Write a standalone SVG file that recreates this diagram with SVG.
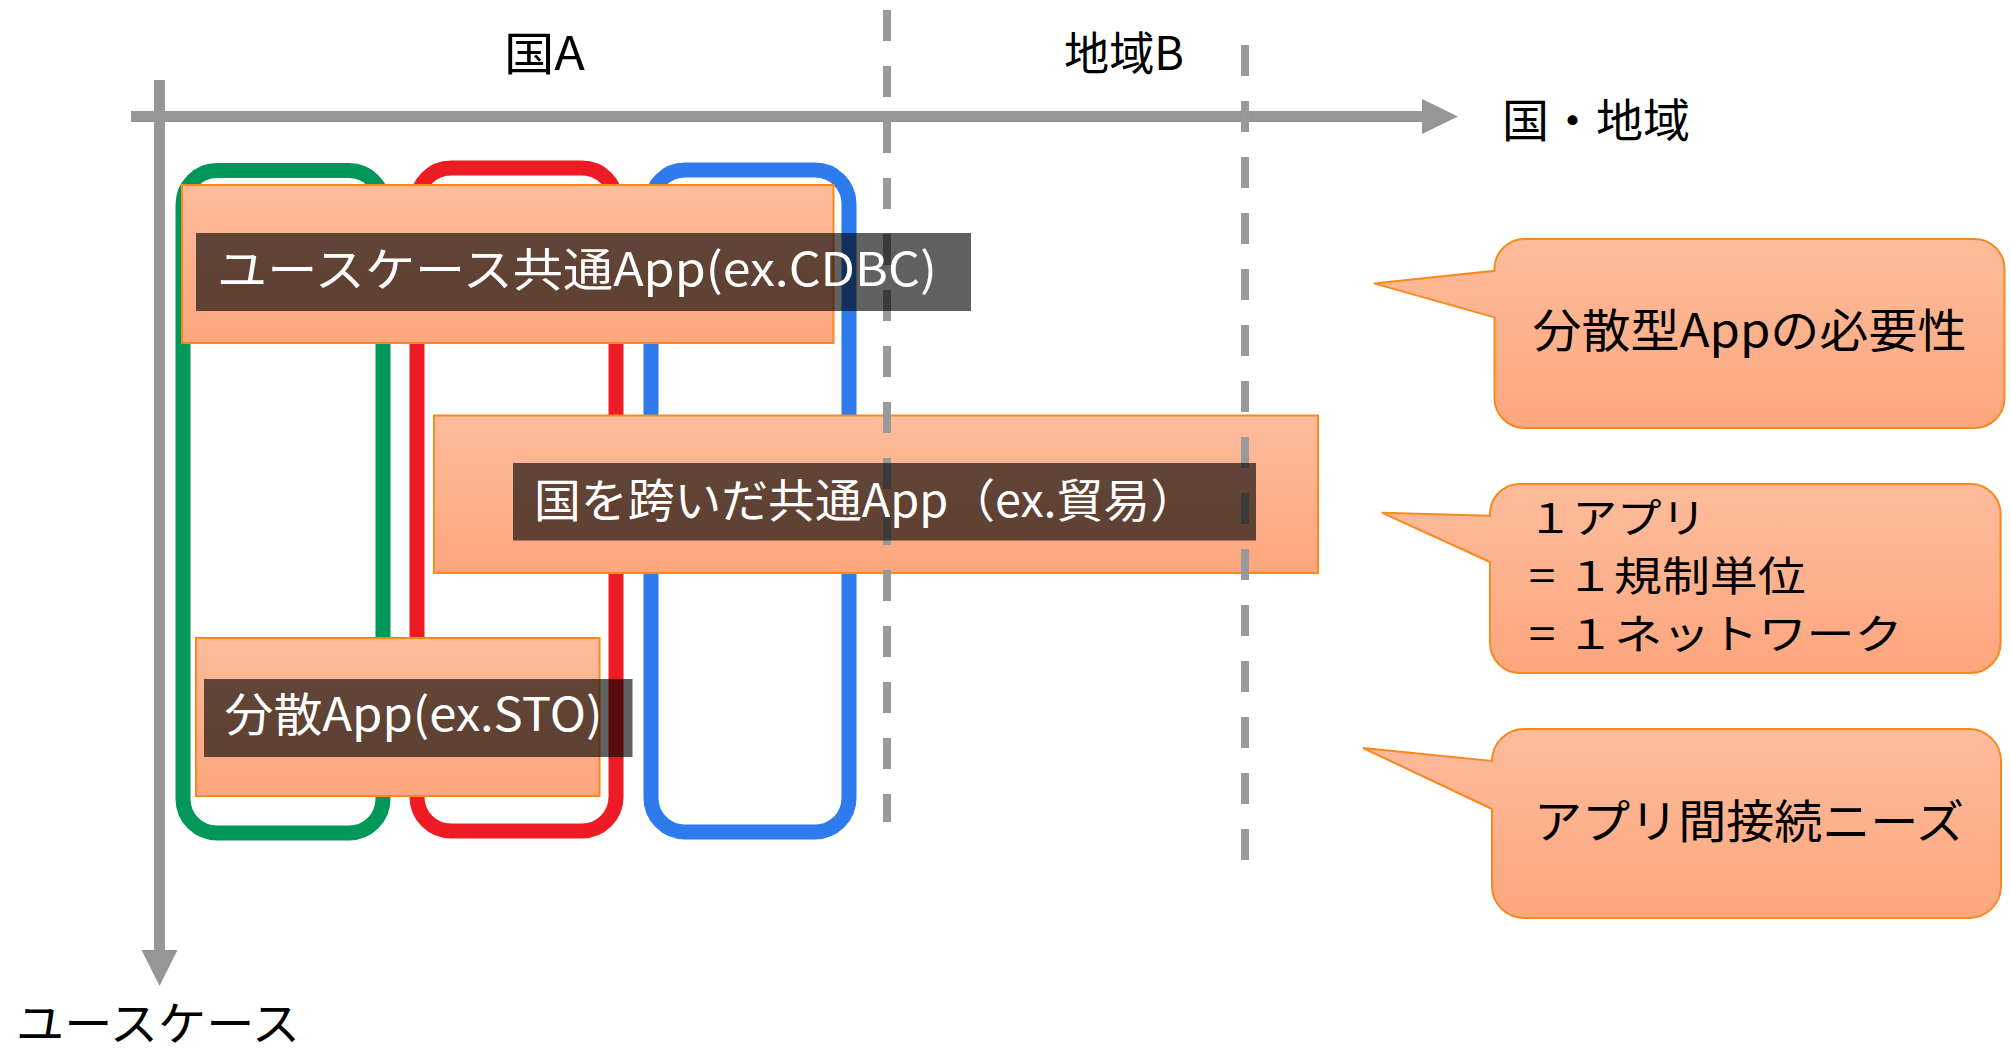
<svg xmlns="http://www.w3.org/2000/svg" width="2011" height="1052" viewBox="0 0 2011 1052">
<defs>
<linearGradient id="peach" x1="0" y1="0" x2="0" y2="1">
<stop offset="0" stop-color="#FDBC9C"/>
<stop offset="1" stop-color="#FCA67D"/>
</linearGradient>
<style>
.t{font-family:"Noto Sans CJK JP","Noto Sans",sans-serif;font-size:46px;fill:#000}
.s{font-family:"Noto Sans CJK JP","Noto Sans",sans-serif;font-size:41px;fill:#000}
.w{font-family:"Noto Sans CJK JP","Noto Sans",sans-serif;font-size:46px;fill:#fff}
.box{fill:url(#peach);stroke:#F8891E;stroke-width:2}
.lab{fill:#000;fill-opacity:0.62}
.loop{fill:none;stroke-width:15}
.dash{stroke:#999;stroke-width:8;stroke-dasharray:31 25;fill:none}
.axis{stroke:#969696;stroke-width:11;fill:none}
</style>
</defs>
<rect width="2011" height="1052" fill="#fff"/>
<g id="connectors">
<line class="axis" x1="131" y1="116.5" x2="1424" y2="116.5"/>
<polygon points="1422,99 1458,116.5 1422,134" fill="#969696"/>
<line class="axis" x1="159.5" y1="80" x2="159.5" y2="952"/>
<polygon points="141.5,950 159.5,986 177.5,950" fill="#969696"/>
</g>
<g id="axis-labels">
<text class="t" x="504" y="70" textLength="81" lengthAdjust="spacingAndGlyphs">国A</text>
<text class="t" x="1064" y="70" textLength="120" lengthAdjust="spacingAndGlyphs">地域B</text>
<text class="t" x="1502" y="137" textLength="188" lengthAdjust="spacingAndGlyphs">国・地域</text>
<text class="t" x="16" y="1040" textLength="284" lengthAdjust="spacingAndGlyphs">ユースケース</text>
</g>
<g id="loop-green"><rect class="loop" x="183" y="170.5" width="200" height="662.5" rx="34" stroke="#00975A"/></g>
<g id="loop-red"><rect class="loop" x="417" y="168" width="199" height="663" rx="34" stroke="#ED1C24"/></g>
<g id="loop-blue"><rect class="loop" x="651" y="170" width="198" height="662" rx="34" stroke="#2D7BEC"/></g>
<g id="box-usecase"><rect class="box" x="182" y="185" width="651.5" height="158"/></g>
<g id="box-cross"><rect class="box" x="434" y="415.5" width="884" height="157.5"/></g>
<g id="box-dist"><rect class="box" x="196" y="638" width="403.5" height="158"/></g>
<g id="dividers">
<line class="dash" x1="887" y1="10" x2="887" y2="822"/>
<line class="dash" x1="1245" y1="45" x2="1245" y2="861"/>
</g>
<g id="label-usecase">
<rect class="lab" x="196" y="233" width="775" height="78"/>
<text class="w" x="217" y="286" textLength="720" lengthAdjust="spacingAndGlyphs">ユースケース共通App(ex.CDBC)</text>
</g>
<g id="label-cross">
<rect class="lab" x="513" y="463" width="743" height="77.5"/>
<text class="w" x="534" y="517" textLength="663" lengthAdjust="spacingAndGlyphs">国を跨いだ共通App（ex.貿易）</text>
</g>
<g id="label-dist">
<rect class="lab" x="204" y="679" width="428.5" height="78"/>
<text class="w" x="224.5" y="731" textLength="378" lengthAdjust="spacingAndGlyphs">分散App(ex.STO)</text>
</g>
<g id="callout-need">
<path class="box" d="M1524.5,239 H1974.5 A30,30 0 0 1 2004.5,269 V398 A30,30 0 0 1 1974.5,428 H1524.5 A30,30 0 0 1 1494.5,398 V317.4 L1374,283.4 L1494.5,270.8 V269 A30,30 0 0 1 1524.5,239 Z"/>
<text class="t" x="1532.5" y="347" textLength="434" lengthAdjust="spacingAndGlyphs">分散型Appの必要性</text>
</g>
<g id="callout-unit">
<path class="box" d="M1520,484 H1970.6 A30,30 0 0 1 2000.6,514 V643 A30,30 0 0 1 1970.6,673 H1520 A30,30 0 0 1 1490,643 V562 L1381.7,512.7 L1490,515.7 V514 A30,30 0 0 1 1520,484 Z"/>
<text class="s" x="1528" y="533" textLength="178" lengthAdjust="spacingAndGlyphs">１アプリ</text>
<text class="s" x="1528.7" y="591" textLength="277" lengthAdjust="spacingAndGlyphs">= １規制単位</text>
<text class="s" x="1528.7" y="649" textLength="374" lengthAdjust="spacingAndGlyphs">= １ネットワーク</text>
</g>
<g id="callout-connect">
<path class="box" d="M1524,729 H1969 A32,32 0 0 1 2001,761 V886 A32,32 0 0 1 1969,918 H1524 A32,32 0 0 1 1492,886 V809 L1363,748 L1492,761 A32,32 0 0 1 1524,729 Z"/>
<text class="t" x="1534" y="838" textLength="430" lengthAdjust="spacingAndGlyphs">アプリ間接続ニーズ</text>
</g>
</svg>
